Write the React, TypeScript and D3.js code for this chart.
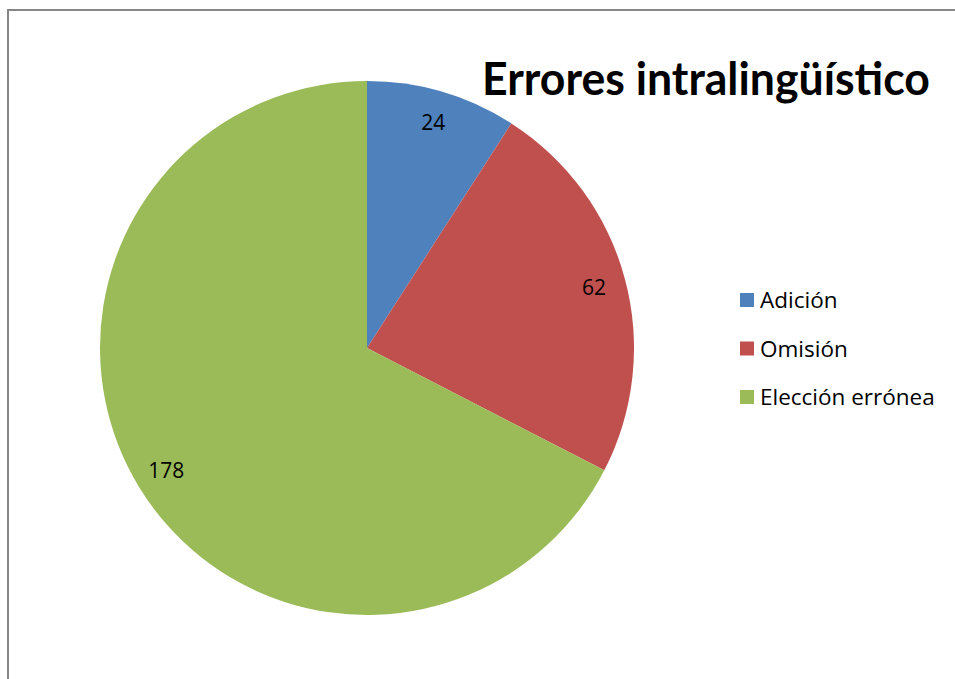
import React from "react";
import * as d3 from "d3";

const categories = ["Adición", "Omisión", "Elección errónea"];
const values = [24, 62, 178];
const colors = ["#4F81BD", "#C0504D", "#9BBB59"];
const title = "Errores intralingüístico";

export default function App() {
  const W = 955, H = 679;
  const cx = 367, cy = 348, R = 267;
  const pie = d3.pie<number>().sort(null).value((d) => d)(values);
  const arc = d3.arc<d3.PieArcDatum<number>>().innerRadius(0).outerRadius(R);
  const labelArc = d3.arc<d3.PieArcDatum<number>>().innerRadius(R * 0.88).outerRadius(R * 0.88);
  const font = "Open Sans, Liberation Sans, sans-serif";
  return (
    <svg width={W} height={H} style={{ position: "absolute", left: 0, top: 0 }}>
      <rect x={0} y={0} width={W} height={H} fill="#fff" />
      <rect x={8} y={10} width={W + 20} height={H + 20} fill="none" stroke="#868686" strokeWidth={2} />
      <g transform={`translate(${cx},${cy})`}>
        {pie.map((p, i) => (
          <path key={i} d={arc(p) || ""} fill={colors[i]} />
        ))}
        {pie.map((p, i) => {
          const [x, y] = labelArc.centroid(p);
          return (
            <text key={i} x={x} y={y} dy="0.36em" textAnchor="middle" fontFamily={font} fontSize={21} fill="#000">
              {values[i]}
            </text>
          );
        })}
      </g>
      <text x={482} y={95} fontFamily="Lato, Open Sans, sans-serif" fontWeight="bold" fontSize={45} textLength={448} lengthAdjust="spacingAndGlyphs" fill="#000">
        {title}
      </text>
      {categories.map((c, i) => (
        <g key={c} transform={`translate(740,${300 + i * 48.5})`}>
          <rect x={0} y={-7} width={14} height={14} fill={colors[i]} />
          <text x={20} y={0} dy="0.36em" fontFamily={font} fontSize={22.5} fill="#000">
            {c}
          </text>
        </g>
      ))}
    </svg>
  );
}
